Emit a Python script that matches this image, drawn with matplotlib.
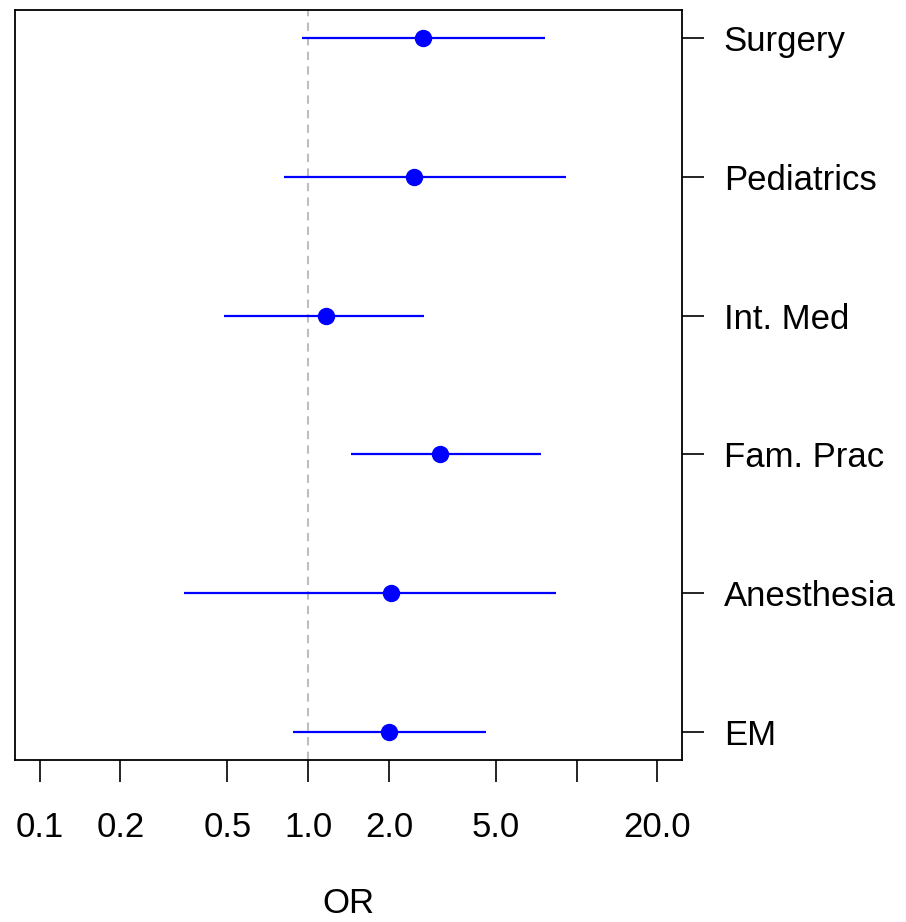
import matplotlib
matplotlib.use("Agg")
import matplotlib.pyplot as plt
import numpy as np

# odds ratios with 95% CI, bottom to top
specialties = ["EM", "Anesthesia", "Fam. Prac", "Int. Med", "Pediatrics", "Surgery"]
odds_ratio = [2.01, 2.03, 3.11, 1.17, 2.47, 2.69]
ci_low = [0.88, 0.344, 1.44, 0.485, 0.815, 0.95]
ci_high = [4.6, 8.36, 7.36, 2.71, 9.1, 7.6]

xticks = [0.1, 0.2, 0.5, 1.0, 2.0, 5.0, 10.0, 20.0]
xticklabels = ["0.1", "0.2", "0.5", "1.0", "2.0", "5.0", "", "20.0"]

plt.rcParams["font.family"] = ["Liberation Sans", "DejaVu Sans"]
fs = 25

fig = plt.figure(figsize=(9.06, 9.22), dpi=100)
ax = fig.add_axes([15 / 906, 1 - 760 / 922, 667 / 906, 750 / 922])

y = np.arange(1, len(specialties) + 1)
ax.axvline(1.0, color="#bebebe", lw=1.5, ls=(0, (4, 3)), zorder=1)
ax.hlines(y, ci_low, ci_high, color="blue", lw=1.6, zorder=2)
ax.plot(odds_ratio, y, "o", color="blue", ms=11.5, zorder=3)

ax.set_xscale("log")
lo, hi = np.log10(0.1), np.log10(20)
pad = 0.04 * (hi - lo)
ax.set_xlim(10 ** (lo - pad), 10 ** (hi + pad))
ax.set_ylim(0.8, 6.2)

ax.set_xticks(xticks)
ax.set_xticklabels(xticklabels)
ax.xaxis.set_minor_locator(matplotlib.ticker.NullLocator())
ax.tick_params(axis="x", length=16, width=1.2, labelsize=fs, pad=21)

ax.yaxis.tick_right()
ax.set_yticks(y)
ax.set_yticklabels(specialties)
ax.tick_params(axis="y", length=16, width=1.2, labelsize=fs, pad=14)

ax.set_xlabel("OR", fontsize=fs, labelpad=31)
for s in ax.spines.values():
    s.set_linewidth(1.3)

fig.savefig("out.png", dpi=100)
